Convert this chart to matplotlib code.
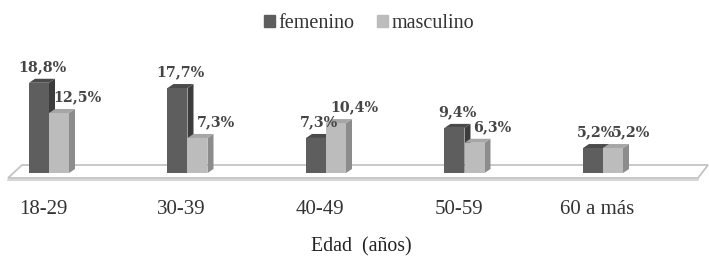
import numpy as np
import matplotlib.pyplot as plt
from matplotlib.patches import Polygon
import matplotlib.patches as mpatches

categorias = ['18-29', '30-39', '40-49', '50-59', '60 a más']
femenino = [18.8, 17.7, 7.3, 9.4, 5.2]
masculino = [12.5, 7.3, 10.4, 6.3, 5.2]
etiq_fem = ['18,8%', '17,7%', '7,3%', '9,4%', '5,2%']
etiq_mas = ['12,5%', '7,3%', '10,4%', '6,3%', '5,2%']

# pixel helpers (figure is 709x258 px, axes fill the figure)
SX = 138.5   # px per category
SY = 4.8     # px per percent
X0 = 49      # px of first group centre
Y0 = 173     # px (from top) of bar base


def ux(px):
    return (px - X0) / SX


def uy(py):
    return (Y0 - py) / SY


fig = plt.figure(figsize=(7.09, 2.58), dpi=100)
ax = fig.add_axes([0, 0, 1, 1])
ax.set_xlim(ux(0), ux(709))
ax.set_ylim(uy(258), uy(0))
ax.axis('off')

# floor
floor = Polygon([(ux(8), uy(178)), (ux(698), uy(178)), (ux(708), uy(165)), (ux(22), uy(165))],
                closed=True, facecolor='white', edgecolor='#c4c4c4', lw=1.3, zorder=1)
ax.add_patch(floor)
ax.plot([ux(8), ux(698)], [uy(179.5), uy(179.5)], color='#d0d0d0', lw=1.2, zorder=1)

x = np.arange(len(categorias))
w = 20 / SX
dx = 6 / SX
dy = 4 / SY

colores = [('#5e5e5e', '#4a4a4a', '#3c3c3c'), ('#bcbcbc', '#a6a6a6', '#8c8c8c')]
for serie, off, (cf, ct, cs) in [(femenino, -w / 2, colores[0]), (masculino, w / 2, colores[1])]:
    bars = ax.bar(x + off, serie, width=w, color=cf, zorder=3, edgecolor='none')
    for b in bars:
        x0 = b.get_x()
        x1 = x0 + b.get_width()
        h = b.get_height()
        ax.add_patch(Polygon([(x0, h), (x1, h), (x1 + dx, h + dy), (x0 + dx, h + dy)],
                             closed=True, facecolor=ct, edgecolor='none', zorder=3))
        ax.add_patch(Polygon([(x1, 0), (x1, h), (x1 + dx, h + dy), (x1 + dx, dy)],
                             closed=True, facecolor=cs, edgecolor='none', zorder=2))

# value labels
for i in range(len(categorias)):
    ax.text(x[i] - w / 2 + 3 / SX, femenino[i] + 16 / SY, etiq_fem[i], ha='center', va='center',
            fontsize=10.3, family='DejaVu Serif', weight='bold', color='#454545', zorder=5)
    ax.text(x[i] + w / 2 + 18 / SX, masculino[i] + 16 / SY, etiq_mas[i], ha='center', va='center',
            fontsize=10.3, family='DejaVu Serif', weight='bold', color='#454545', zorder=5)

# category labels
for i, c in enumerate(categorias):
    ax.text(x[i] - 6 / SX, uy(209), c, ha='center', va='center',
            fontsize=15, family='Liberation Serif', color='#333333')

ax.text(ux(361), uy(247), 'Edad  (años)', ha='center', va='center',
        fontsize=14.3, family='Liberation Serif', color='#222222')

# legend
h1 = mpatches.Patch(color='#5e5e5e', label='femenino')
h2 = mpatches.Patch(color='#bcbcbc', label='masculino')
leg = fig.legend(handles=[h1, h2], loc='center', bbox_to_anchor=(369 / 709, 1 - 24 / 258), ncol=2,
                 frameon=False, handlelength=0.55, handleheight=0.55, handletextpad=0.2,
                 columnspacing=1.1, prop={'family': 'Liberation Serif', 'size': 14.5})
for t in leg.get_texts():
    t.set_color('#333333')

fig.savefig('out.png', dpi=100)
